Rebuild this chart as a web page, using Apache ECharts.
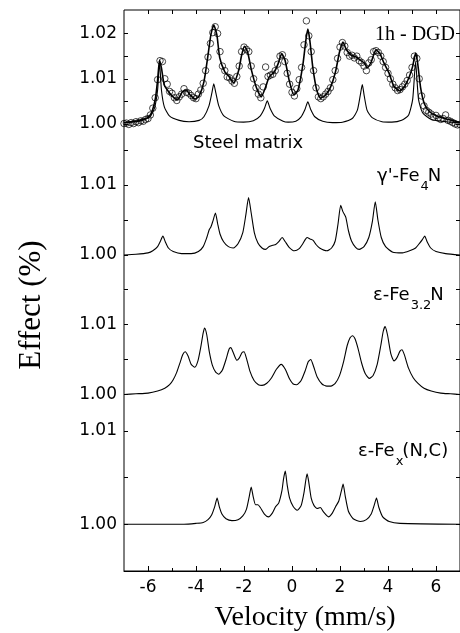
<!DOCTYPE html>
<html><head><meta charset="utf-8">
<script src="https://cdn.jsdelivr.net/npm/echarts@6/dist/echarts.min.js"></script>
<style>html,body{margin:0;padding:0;background:#fff}#c{width:460px;height:633px}</style>
</head><body><div id="c"></div>
<script>
// ---- tick labels ----
const velocityTicks = [-6, -4, -2, 0, 2, 4, 6];
const velocityMinorTicks = [-5, -3, -1, 1, 3, 5];
const velocityTopTicks = [-6, -5, -4, -3, -2, -1, 0, 1, 2, 3, 4, 5, 6];
const p1Labels = [1.00, 1.01, 1.02];
const p1Ticks = [1.000, 1.005, 1.010, 1.015, 1.020];
const p2Labels = [1.00, 1.01];
const p2Ticks = [1.000, 1.005, 1.010, 1.015];
const p3Labels = [1.00, 1.01];
const p3Ticks = [1.000, 1.005, 1.010, 1.015];
const p4Labels = [1.00, 1.01];
const p4Ticks = [1.000, 1.005, 1.010];

// ---- panel 1: 1h - DGD measured points ----
const dataX = [-7.0,-6.9,-6.8,-6.7,-6.6,-6.5,-6.4,-6.3,-6.2,-6.1,-6.0,-5.9,-5.8,-5.7,-5.6,-5.5,-5.4,-5.3,-5.2,-5.1,
 -5.0,-4.9,-4.8,-4.7,-4.6,-4.5,-4.4,-4.3,-4.2,-4.1,-4.0,-3.9,-3.8,-3.7,-3.6,-3.5,-3.4,-3.3,-3.2,-3.1,
 -3.0,-2.9,-2.8,-2.7,-2.6,-2.5,-2.4,-2.3,-2.2,-2.1,-2.0,-1.9,-1.8,-1.7,-1.6,-1.5,-1.4,-1.3,-1.2,-1.1,
 -1.0,-0.9,-0.8,-0.7,-0.6,-0.5,-0.4,-0.3,-0.2,-0.1,0.0,0.1,0.2,0.3,0.4,0.5,0.6,0.7,0.8,0.9,
 1.0,1.1,1.2,1.3,1.4,1.5,1.6,1.7,1.8,1.9,2.0,2.1,2.2,2.3,2.4,2.5,2.6,2.7,2.8,2.9,
 3.0,3.1,3.2,3.3,3.4,3.5,3.6,3.7,3.8,3.9,4.0,4.1,4.2,4.3,4.4,4.5,4.6,4.7,4.8,4.9,
 5.0,5.1,5.2,5.3,5.4,5.5,5.6,5.7,5.8,5.9,6.0,6.1,6.2,6.3,6.4,6.5,6.6,6.7,6.8,6.9,7.0];
const dataY = [1.0001,1.0002,0.9999,1.0003,1.0001,1.0005,1.0003,1.0007,1.0006,1.0010,1.0012,1.0020,1.0035,1.0058,1.0098,1.0140,1.0138,1.0100,1.0088,1.0072,
 1.0068,1.0058,1.0052,1.0060,1.0066,1.0078,1.0070,1.0068,1.0063,1.0058,1.0056,1.0066,1.0075,1.0090,1.0118,1.0148,1.0178,1.0202,1.0215,1.0200,
 1.0160,1.0128,1.0118,1.0104,1.0102,1.0095,1.0090,1.0105,1.0128,1.0160,1.0170,1.0165,1.0160,1.0128,1.0100,1.0080,1.0066,1.0058,1.0082,1.0126,
 1.0105,1.0108,1.0110,1.0118,1.0132,1.0150,1.0153,1.0138,1.0112,1.0088,1.0070,1.0062,1.0078,1.0098,1.0125,1.0175,1.0228,1.0195,1.0160,1.0118,
 1.0080,1.0060,1.0056,1.0060,1.0066,1.0072,1.0080,1.0098,1.0118,1.0145,1.0170,1.0180,1.0172,1.0158,1.0150,1.0152,1.0146,1.0150,1.0140,1.0136,
 1.0128,1.0118,1.0135,1.0142,1.0160,1.0162,1.0158,1.0150,1.0138,1.0125,1.0112,1.0100,1.0088,1.0080,1.0074,1.0076,1.0082,1.0088,1.0096,1.0108,
 1.0125,1.0150,1.0145,1.0100,1.0062,1.0040,1.0030,1.0026,1.0022,1.0015,1.0019,1.0013,1.0010,1.0012,1.0020,1.0008,1.0006,1.0003,1.0000,0.9998,0.9999];

// ---- panel 1: total fit ----
const fitX = [-7.00,-6.55,-6.14,-5.93,-5.81,-5.69,-5.60,-5.52,-5.44,-5.32,-5.11,-4.90,-4.78,-4.57,-4.41,-4.24,-4.04,-3.87,-3.67,-3.50,
 -3.38,-3.26,-3.13,-3.01,-2.80,-2.64,-2.43,-2.22,-2.10,-1.98,-1.85,-1.69,-1.48,-1.28,-1.11,-0.95,-0.74,-0.58,-0.43,-0.29,
 -0.12,0.08,0.25,0.45,0.58,0.66,0.74,0.87,1.03,1.19,1.40,1.61,1.81,1.98,2.12,2.27,2.47,2.68,2.84,3.01,
 3.13,3.30,3.50,3.67,3.83,4.04,4.24,4.49,4.70,4.90,5.03,5.15,5.23,5.36,5.52,5.73,6.02,6.43,6.84,7.00];
const fitY = [1.0003,1.0006,1.0011,1.0018,1.0031,1.0057,1.0097,1.0141,1.0124,1.0086,1.0069,1.0057,1.0053,1.0071,1.0075,1.0064,1.0055,1.0062,1.0093,1.0152,
 1.0197,1.0219,1.0197,1.0146,1.0115,1.0106,1.0091,1.0119,1.0152,1.0172,1.0159,1.0119,1.0080,1.0060,1.0080,1.0104,1.0115,1.0133,1.0155,1.0141,
 1.0097,1.0064,1.0075,1.0130,1.0186,1.0210,1.0186,1.0124,1.0075,1.0057,1.0064,1.0082,1.0115,1.0159,1.0181,1.0164,1.0152,1.0148,1.0141,1.0135,
 1.0124,1.0137,1.0164,1.0155,1.0135,1.0113,1.0084,1.0073,1.0084,1.0106,1.0128,1.0157,1.0137,1.0080,1.0044,1.0027,1.0018,1.0011,1.0006,1.0003];

// ---- panel 1: steel matrix sub-spectrum ----
const matrixX = [-7.00,-6.35,-5.93,-5.73,-5.60,-5.52,-5.44,-5.32,-5.11,-4.70,-4.29,-3.87,-3.67,-3.46,-3.34,-3.26,-3.17,-3.05,-2.84,-2.43,
 -2.02,-1.61,-1.32,-1.15,-1.03,-0.91,-0.74,-0.37,-0.16,0.16,0.37,0.54,0.66,0.78,0.95,1.28,1.69,2.10,2.51,2.72,
 2.84,2.93,3.01,3.13,3.34,3.75,4.16,4.57,4.86,5.03,5.15,5.27,5.44,5.81,6.43,7.00];
const matrixY = [1.0003,1.0006,1.0015,1.0035,1.0075,1.0137,1.0075,1.0038,1.0018,1.0008,1.0005,1.0008,1.0016,1.0040,1.0068,1.0089,1.0068,1.0040,1.0018,1.0006,
 1.0004,1.0007,1.0018,1.0034,1.0051,1.0034,1.0018,1.0006,1.0004,1.0006,1.0015,1.0032,1.0049,1.0032,1.0016,1.0006,1.0003,1.0004,1.0012,1.0030,
 1.0062,1.0087,1.0062,1.0030,1.0014,1.0005,1.0004,1.0008,1.0020,1.0055,1.0137,1.0055,1.0025,1.0010,1.0005,1.0003];

// ---- panel 2: gamma'-Fe4N ----
const gammaX = [-7.0,-6.5,-6.0,-5.8,-5.6,-5.48,-5.38,-5.28,-5.15,-4.95,-4.6,-4.2,-3.9,-3.7,-3.55,-3.45,-3.38,-3.30,-3.19,-3.10,
 -3.00,-2.85,-2.65,-2.45,-2.25,-2.05,-1.92,-1.81,-1.70,-1.57,-1.42,-1.25,-1.10,-0.95,-0.80,-0.68,-0.55,-0.41,-0.28,-0.12,
 0.10,0.30,0.45,0.55,0.63,0.75,0.88,1.00,1.15,1.45,1.65,1.80,1.92,2.03,2.12,2.24,2.35,2.48,2.65,2.80,
 3.00,3.20,3.35,3.47,3.58,3.72,3.90,4.20,4.60,4.90,5.15,5.32,5.43,5.53,5.63,5.78,6.00,6.40,7.00];
const gammaY = [1.0000,1.0001,1.0003,1.0006,1.0012,1.0020,1.0027,1.0019,1.0010,1.0005,1.0002,1.0002,1.0005,1.0012,1.0025,1.0036,1.0040,1.0048,1.0060,1.0045,
 1.0030,1.0019,1.0012,1.0010,1.0016,1.0032,1.0058,1.0082,1.0060,1.0032,1.0017,1.0010,1.0008,1.0012,1.0014,1.0015,1.0019,1.0025,1.0019,1.0011,
 1.0006,1.0009,1.0016,1.0022,1.0025,1.0023,1.0021,1.0015,1.0010,1.0006,1.0010,1.0020,1.0045,1.0071,1.0062,1.0054,1.0035,1.0020,1.0011,1.0008,
 1.0012,1.0025,1.0048,1.0076,1.0050,1.0025,1.0012,1.0004,1.0003,1.0006,1.0010,1.0017,1.0022,1.0027,1.0019,1.0010,1.0005,1.0002,1.0000];

// ---- panel 3: epsilon-Fe3.2N ----
const eps32X = [-7.0,-6.5,-6.0,-5.6,-5.3,-5.1,-4.95,-4.80,-4.65,-4.55,-4.45,-4.33,-4.20,-4.05,-3.92,-3.80,-3.70,-3.64,-3.55,-3.45,
 -3.32,-3.18,-3.05,-2.90,-2.75,-2.62,-2.55,-2.45,-2.30,-2.20,-2.08,-2.00,-1.90,-1.75,-1.58,-1.40,-1.25,-1.05,-0.85,-0.65,
 -0.45,-0.28,-0.10,0.05,0.20,0.38,0.55,0.68,0.78,0.90,1.05,1.25,1.45,1.62,1.80,1.98,2.15,2.30,2.42,2.52,
 2.62,2.75,2.90,3.05,3.22,3.38,3.55,3.70,3.80,3.88,3.98,4.12,4.25,4.38,4.50,4.58,4.68,4.85,5.05,5.25,
 5.50,5.80,6.20,6.60,7.00];
const eps32Y = [1.0000,1.0001,1.0002,1.0005,1.0009,1.0014,1.0021,1.0032,1.0047,1.0057,1.0061,1.0055,1.0043,1.0039,1.0048,1.0068,1.0088,1.0095,1.0085,1.0062,
 1.0042,1.0032,1.0029,1.0035,1.0050,1.0065,1.0067,1.0060,1.0049,1.0052,1.0060,1.0061,1.0052,1.0033,1.0020,1.0014,1.0013,1.0016,1.0024,1.0036,
 1.0043,1.0036,1.0022,1.0015,1.0014,1.0020,1.0034,1.0047,1.0050,1.0040,1.0025,1.0015,1.0012,1.0012,1.0016,1.0027,1.0047,1.0070,1.0081,1.0084,
 1.0080,1.0066,1.0045,1.0030,1.0023,1.0027,1.0043,1.0070,1.0090,1.0097,1.0085,1.0058,1.0048,1.0053,1.0062,1.0064,1.0057,1.0038,1.0024,1.0016,
 1.0009,1.0005,1.0002,1.0001,1.0000];

// ---- panel 4: epsilon-Fex(N,C) ----
const epsNCX = [-7.0,-4.5,-4.0,-3.7,-3.5,-3.35,-3.22,-3.12,-3.03,-2.92,-2.75,-2.50,-2.25,-2.05,-1.90,-1.78,-1.70,-1.62,-1.52,-1.42,
 -1.32,-1.15,-0.98,-0.82,-0.68,-0.55,-0.42,-0.35,-0.28,-0.20,-0.10,0.05,0.22,0.38,0.50,0.58,0.63,0.70,0.80,0.92,
 1.05,1.18,1.32,1.52,1.68,1.82,1.95,2.05,2.13,2.22,2.35,2.55,2.85,3.10,3.30,3.42,3.52,3.62,3.78,4.05,4.50,7.0];
const epsNCY = [1.0000,1.0000,1.0001,1.0002,1.0005,1.0010,1.0019,1.0028,1.0019,1.0011,1.0006,1.0004,1.0005,1.0009,1.0016,1.0030,1.0040,1.0030,1.0021,1.0021,
 1.0018,1.0011,1.0008,1.0012,1.0019,1.0023,1.0036,1.0049,1.0057,1.0042,1.0028,1.0019,1.0015,1.0020,1.0034,1.0048,1.0054,1.0045,1.0028,1.0020,
 1.0017,1.0018,1.0013,1.0008,1.0012,1.0019,1.0025,1.0035,1.0043,1.0030,1.0014,1.0006,1.0003,1.0005,1.0011,1.0020,1.0028,1.0018,1.0008,1.0003,1.0001,1.0000];

const pairs = (xs, ys) => xs.map((x, i) => [x, ys[i]]);

const chart = echarts.init(document.getElementById('c'), null, {renderer: 'canvas'});
const SANS = '"DejaVu Sans", sans-serif';
const SERIF = '"Liberation Serif", "Times New Roman", serif';
const LEFT = 124, RIGHT = -3.8;

// measure text widths to place sub-scripted labels
const mctx = document.createElement('canvas').getContext('2d');
function textWidth(t, size) { mctx.font = size + 'px ' + SANS; return mctx.measureText(t).width; }
function subLabel(parts, x, y) {
  // parts: [[text, isSub], ...]
  const out = [];
  let cx = x;
  parts.forEach(([t, sub]) => {
    const size = sub ? 13 : 18;
    out.push({type: 'text', x: cx, y: sub ? y + 11 : y,
      style: {text: t, fontFamily: SANS, fontSize: size, fill: '#000', align: 'left', verticalAlign: 'middle'}});
    cx += textWidth(t, size) + (sub ? -1 : 1);
  });
  return out;
}

function yPair(gridIndex, min, max, ticks, labels) {
  const base = {
    gridIndex, type: 'value', min, max, scale: true,
    axisLine: {show: false, onZero: false}, splitLine: {show: false},
    axisTick: {show: true, inside: true, length: 4, customValues: ticks, lineStyle: {color: '#000', width: 1}}
  };
  return [
    Object.assign({}, base, {position: 'left',
      axisLabel: {show: true, customValues: labels, formatter: v => Number(v).toFixed(2),
        color: '#000', fontFamily: SANS, fontSize: 17, margin: 7}}),
    Object.assign({}, base, {position: 'right', axisLabel: {show: false}})
  ];
}

const curveStyle = {color: '#000', width: 1.1};

const option = {
  animation: false,
  backgroundColor: '#fff',
  grid: [
    {left: LEFT, right: RIGHT, top: 10, bottom: 62, show: true, borderColor: '#000', borderWidth: 1, backgroundColor: 'transparent'},
    {left: LEFT, right: RIGHT, top: 10, height: 136.6},
    {left: LEFT, right: RIGHT, top: 150, height: 140},
    {left: LEFT, right: RIGHT, top: 289.5, height: 140},
    {left: LEFT, right: RIGHT, top: 430, height: 141}
  ],
  xAxis: [
    {gridIndex: 0, type: 'value', min: -7, max: 7, position: 'bottom',
      axisLine: {show: true, onZero: false, lineStyle: {color: '#000', width: 1}},
      axisTick: {show: true, inside: true, length: 5, customValues: velocityTicks, lineStyle: {color: '#000'}},
      axisLabel: {show: true, customValues: velocityTicks, color: '#000', fontFamily: SANS, fontSize: 17, margin: 8},
      splitLine: {show: false}},
    {gridIndex: 1, type: 'value', min: -7, max: 7, position: 'top',
      axisLine: {show: false, onZero: false},
      axisTick: {show: true, inside: true, length: 4, customValues: velocityTopTicks, lineStyle: {color: '#000'}},
      axisLabel: {show: false}, splitLine: {show: false}},
    {gridIndex: 2, type: 'value', min: -7, max: 7, show: false, axisLine: {onZero: false}},
    {gridIndex: 3, type: 'value', min: -7, max: 7, show: false, axisLine: {onZero: false}},
    {gridIndex: 4, type: 'value', min: -7, max: 7, position: 'bottom',
      axisLine: {show: false, onZero: false},
      axisTick: {show: true, inside: true, length: 3, customValues: velocityMinorTicks, lineStyle: {color: '#000'}},
      axisLabel: {show: false}, splitLine: {show: false}}
  ],
  yAxis: [
    {gridIndex: 0, type: 'value', min: 0, max: 1, show: false, axisLine: {onZero: false}},
    ...yPair(1, 0.995, 1.0252, p1Ticks, p1Labels),
    ...yPair(2, 0.995, 1.015, p2Ticks, p2Labels),
    ...yPair(3, 0.995, 1.015, p3Ticks, p3Labels),
    ...yPair(4, 0.995, 1.0101, p4Ticks, p4Labels)
  ],
  series: [
    {type: 'line', name: 'Steel matrix', xAxisIndex: 1, yAxisIndex: 1, data: pairs(matrixX, matrixY),
      showSymbol: false, smooth: 0.2, lineStyle: curveStyle, silent: true},
    {type: 'line', name: 'fit', xAxisIndex: 1, yAxisIndex: 1, data: pairs(fitX, fitY),
      showSymbol: false, smooth: 0.2, lineStyle: {color: '#000', width: 1.6}, silent: true},
    {type: 'scatter', name: '1h - DGD', xAxisIndex: 1, yAxisIndex: 1, data: pairs(dataX, dataY),
      symbol: 'circle', symbolSize: 6.5,
      itemStyle: {color: 'rgba(0,0,0,0)', borderColor: '#000', borderWidth: 0.9}, silent: true},
    {type: 'line', name: "γ'-Fe4N", xAxisIndex: 2, yAxisIndex: 3, data: pairs(gammaX, gammaY),
      showSymbol: false, smooth: 0.2, lineStyle: curveStyle, silent: true},
    {type: 'line', name: 'ε-Fe3.2N', xAxisIndex: 3, yAxisIndex: 5, data: pairs(eps32X, eps32Y),
      showSymbol: false, smooth: 0.2, lineStyle: curveStyle, silent: true},
    {type: 'line', name: 'ε-Fex(N,C)', xAxisIndex: 4, yAxisIndex: 7, data: pairs(epsNCX, epsNCY),
      showSymbol: false, smooth: 0.2, lineStyle: curveStyle, silent: true}
  ],
  graphic: [
    {type: 'text', x: 32, y: 305, rotation: Math.PI / 2,
      style: {text: 'Effect (%)', fontFamily: SERIF, fontSize: 31, fill: '#000', align: 'center', verticalAlign: 'middle'}},
    {type: 'text', x: 305, y: 618,
      style: {text: 'Velocity (mm/s)', fontFamily: SERIF, fontSize: 28, fill: '#000', align: 'center', verticalAlign: 'middle'}},
    {type: 'text', x: 375, y: 35,
      style: {text: '1h - DGD', fontFamily: SERIF, fontSize: 20, fill: '#000', align: 'left', verticalAlign: 'middle'}},
    {type: 'text', x: 193, y: 143,
      style: {text: 'Steel matrix', fontFamily: SANS, fontSize: 18, fill: '#000', align: 'left', verticalAlign: 'middle'}},
    ...subLabel([["γ'-Fe", false], ['4', true], ['N', false]], 377, 176),
    ...subLabel([['ε-Fe', false], ['3.2', true], ['N', false]], 373, 295),
    ...subLabel([['ε-Fe', false], ['x', true], ['(N,C)', false]], 358, 451)
  ]
};
chart.setOption(option);
</script></body></html>
